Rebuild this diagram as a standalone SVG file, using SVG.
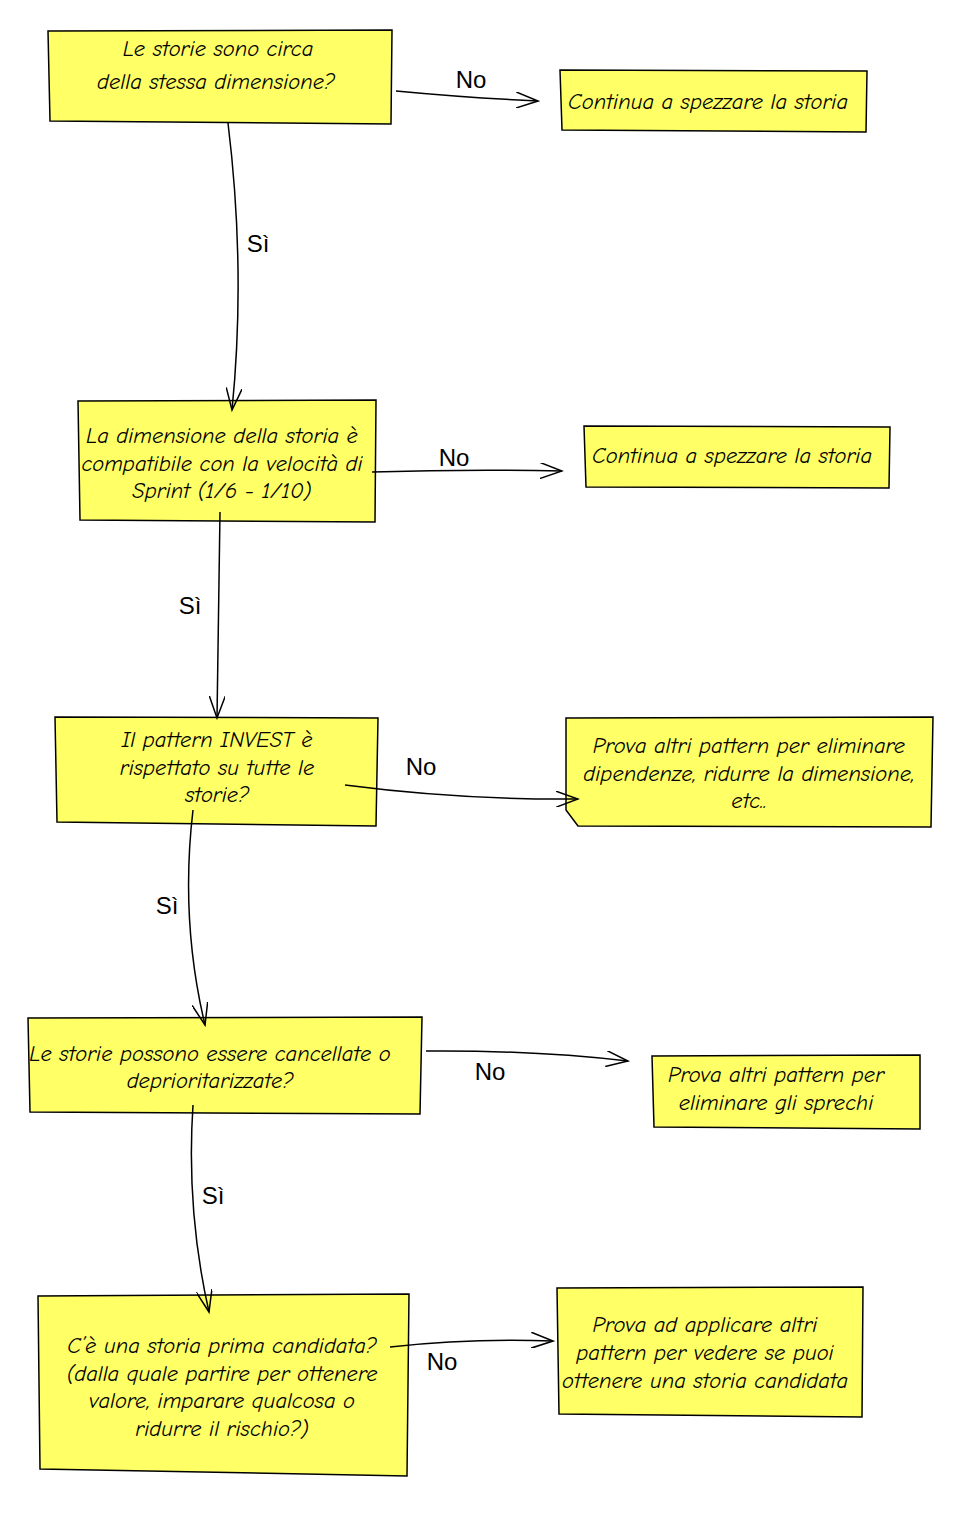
<svg xmlns="http://www.w3.org/2000/svg" width="960" height="1521" viewBox="0 0 960 1521">
<style>
.b{fill:#ffff66;stroke:#000;stroke-width:1.5}
.t{font-family:"Comic Neue","Liberation Sans",sans-serif;font-size:22.5px;text-anchor:middle;fill:#000;font-style:italic}
.l{font-family:"Liberation Sans",sans-serif;font-size:24px;text-anchor:middle;fill:#000}
.c{fill:none;stroke:#000;stroke-width:1.5;marker-end:url(#a)}
</style>
<defs><marker id="a" markerWidth="24" markerHeight="16" refX="22" refY="8" orient="auto" markerUnits="userSpaceOnUse"><path d="M0,0 L22,8 L0,16" fill="none" stroke="#000" stroke-width="1.5"/></marker></defs>
<rect width="960" height="1521" fill="#fff"/>
<g id="n1"><path class="b" d="M48,31 L392,30 L391,124 L50,121 Z"/><text class="t" x="218" y="56">Le storie sono circa</text><text class="t" x="216" y="89">della stessa dimensione?</text></g>
<g id="n2"><path class="b" d="M560,70 L867,71 L866,132 L562,130 Z"/><text class="t" x="708" y="109">Continua a spezzare la storia</text></g>
<g id="n3"><path class="b" d="M78,401 L376,400 L375,522 L80,520 Z"/><text class="t" x="222" y="443">La dimensione della storia è</text><text class="t" x="222" y="471">compatibile con la velocità di</text><text class="t" x="222" y="498">Sprint (1/6 - 1/10)</text></g>
<g id="n4"><path class="b" d="M584,426 L890,427 L889,488 L586,487 Z"/><text class="t" x="732" y="463">Continua a spezzare la storia</text></g>
<g id="n5"><path class="b" d="M55,717 L378,718 L376,826 L57,822 Z"/><text class="t" x="217" y="747">Il pattern INVEST è</text><text class="t" x="217" y="775">rispettato su tutte le</text><text class="t" x="217" y="802">storie?</text></g>
<g id="n6"><path class="b" d="M566,718 L933,717 L931,827 L578,826 L566,810 Z"/><text class="t" x="749" y="753">Prova altri pattern per eliminare</text><text class="t" x="749" y="781">dipendenze, ridurre la dimensione,</text><text class="t" x="749" y="808">etc..</text></g>
<g id="n7"><path class="b" d="M28,1018 L422,1017 L420,1114 L30,1112 Z"/><text class="t" x="210" y="1061">Le storie possono essere cancellate o</text><text class="t" x="210" y="1088">deprioritarizzate?</text></g>
<g id="n8"><path class="b" d="M652,1056 L920,1055 L920,1129 L654,1127 Z"/><text class="t" x="776" y="1082">Prova altri pattern per</text><text class="t" x="776" y="1110">eliminare gli sprechi</text></g>
<g id="n9"><path class="b" d="M38,1296 L409,1294 L407,1476 L40,1469 Z"/><text class="t" x="222" y="1353">C’è una storia prima candidata?</text><text class="t" x="222" y="1381">(dalla quale partire per ottenere</text><text class="t" x="222" y="1408">valore, imparare qualcosa o</text><text class="t" x="222" y="1436">ridurre il rischio?)</text></g>
<g id="n10"><path class="b" d="M557,1288 L863,1287 L862,1417 L559,1414 Z"/><text class="t" x="705" y="1332">Prova ad applicare altri</text><text class="t" x="705" y="1360">pattern per vedere se puoi</text><text class="t" x="705" y="1388">ottenere una storia candidata</text></g>
<g id="connectors">
<path class="c" d="M396,91 Q470,98 538,101"/>
<path class="c" d="M228,123 Q246,270 232,410"/>
<path class="c" d="M372,472 Q470,469 562,471"/>
<path class="c" d="M220,512 L217,718"/>
<path class="c" d="M345,785 Q460,800 578,799"/>
<path class="c" d="M193,810 Q180,920 205,1025"/>
<path class="c" d="M426,1051 Q530,1050 628,1061"/>
<path class="c" d="M193,1105 Q186,1210 209,1312"/>
<path class="c" d="M390,1347 Q470,1338 553,1341"/>
<text class="l" x="471" y="88">No</text><text class="l" x="258" y="252">Sì</text>
<text class="l" x="454" y="466">No</text><text class="l" x="190" y="614">Sì</text>
<text class="l" x="421" y="775">No</text><text class="l" x="167" y="914">Sì</text>
<text class="l" x="490" y="1080">No</text><text class="l" x="213" y="1204">Sì</text>
<text class="l" x="442" y="1370">No</text>
</g>
</svg>
